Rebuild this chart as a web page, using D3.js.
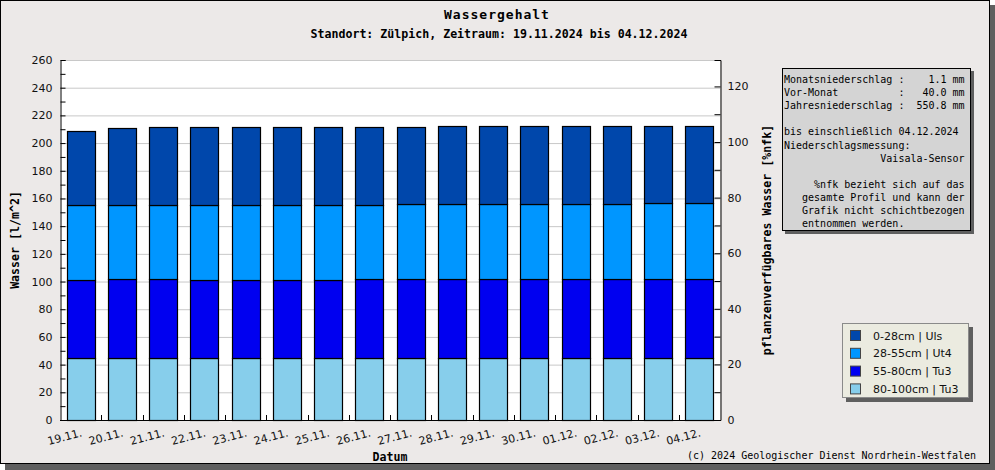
<!DOCTYPE html>
<html><head><meta charset="utf-8">
<script src="https://cdn.jsdelivr.net/npm/d3@7"></script>
<style>
html,body{margin:0;padding:0;background:#fff;}
svg{display:block;}
text{font-family:"DejaVu Sans",sans-serif;}
.mono{font-family:"DejaVu Sans Mono",monospace;white-space:pre;}
</style></head>
<body>
<svg id="c" width="995" height="470"></svg>
<script>
const dates = ["19.11.","20.11.","21.11.","22.11.","23.11.","24.11.","25.11.","26.11.","27.11.","28.11.","29.11.","30.11.","01.12.","02.12.","03.12.","04.12."];
// layer values in l/m^2, bottom to top
const layer80_100 = [44.6,44.6,44.6,44.6,44.6,44.6,44.6,44.6,44.6,45.0,45.0,45.0,45.0,45.0,45.0,45.0];
const layer55_80  = [56.4,57.1,57.1,56.7,56.7,56.7,56.7,57.1,57.1,56.9,56.9,56.9,56.9,56.9,56.9,56.9];
const layer28_55  = [54.3,53.6,53.6,54.0,54.0,54.0,54.0,53.6,54.3,54.1,54.1,54.1,54.1,54.1,54.8,54.8];
const layer0_28   = [53.3,55.4,56.3,56.3,56.3,56.3,56.3,56.3,55.8,56.3,56.3,56.3,56.3,56.3,55.6,55.6];
const seriesNames = ["0-28cm | Uls","28-55cm | Ut4","55-80cm | Tu3","80-100cm | Tu3"];
const seriesColors = ["#0047ab","#0096ff","#0000f0","#87ceeb"];
const leftTicks = [0,20,40,60,80,100,120,140,160,180,200,220,240,260];
const rightTicks = [0,20,40,60,80,100,120];
const leftMax = 260, rightMax = 129.5;
const title = "Wassergehalt";
const subtitle = "Standort: Zülpich, Zeitraum: 19.11.2024 bis 04.12.2024";
const infoLines = [
"Monatsniederschlag :    1.1 mm",
"Vor-Monat          :   40.0 mm",
"Jahresniederschlag :  550.8 mm",
"",
"bis einschließlich 04.12.2024",
"Niederschlagsmessung:",
"                Vaisala-Sensor",
"",
"     %nfk bezieht sich auf das",
"   gesamte Profil und kann der",
"   Grafik nicht schichtbezogen",
"   entnommen werden."
];
const footer = "(c) 2024 Geologischer Dienst Nordrhein-Westfalen";

const svg = d3.select("#c");
// frame + shadow
svg.append("rect").attr("x",5).attr("y",5).attr("width",990).attr("height",465).attr("fill","#5f5f5f");
svg.append("rect").attr("x",0.5).attr("y",0.5).attr("width",989).attr("height",463).attr("fill","#ece9e8").attr("stroke","#000");

const L=60,R=720,T=60,B=420;
const x = d3.scaleBand().domain(dates).range([L,R]).paddingInner(0.32).paddingOuter(0.16);
const y = d3.scaleLinear().domain([0,leftMax]).range([B,T]);
const y2 = d3.scaleLinear().domain([0,rightMax]).range([B,T]);

svg.append("rect").attr("x",L).attr("y",T).attr("width",R-L).attr("height",B-T).attr("fill","#fff");
// grid
svg.append("g").selectAll("line").data(leftTicks.filter(d=>d>0)).join("line")
  .attr("x1",L).attr("x2",R).attr("y1",d=>y(d)+0.5).attr("y2",d=>y(d)+0.5)
  .attr("stroke","#c8c8c8").attr("stroke-width",1);

// stacked bars
const rows = dates.map((d,i)=>({date:d, l0:layer0_28[i], l1:layer28_55[i], l2:layer55_80[i], l3:layer80_100[i]}));
const stack = d3.stack().keys(["l3","l2","l1","l0"])(rows);
const colorByKey = {l0:seriesColors[0], l1:seriesColors[1], l2:seriesColors[2], l3:seriesColors[3]};
svg.append("g").selectAll("g").data(stack).join("g").attr("fill",s=>colorByKey[s.key])
  .selectAll("rect").data(s=>s).join("rect")
  .attr("x",d=>Math.round(x(d.data.date))+0.5).attr("width",Math.round(x.bandwidth()))
  .attr("y",d=>Math.round(y(d[1]))+0.5).attr("height",d=>Math.round(y(d[0]))-Math.round(y(d[1])))
  .attr("stroke","#000").attr("stroke-width",1.2);

// left axis
const la = d3.axisLeft(y).tickValues(d3.range(0,leftMax+1,10)).tickSize(-5).tickPadding(8)
  .tickFormat(d=>leftTicks.includes(d)?d:"");
const gl = svg.append("g").attr("transform",`translate(${L+0.5},0)`).call(la);
gl.select(".domain").attr("stroke","#000");
gl.selectAll("text").attr("font-size","11px").attr("fill","#111").attr("x",-8);
gl.selectAll("line").attr("stroke","#000");
// right axis
const ra = d3.axisRight(y2).tickValues(d3.range(0,rightMax,10)).tickSize(-6).tickPadding(8)
  .tickFormat(d=>rightTicks.includes(d)?d:"");
const gr = svg.append("g").attr("transform",`translate(${R+0.5},0)`).call(ra);
gr.select(".domain").attr("stroke","#000");
gr.selectAll("text").attr("font-size","11px").attr("fill","#111").attr("x",7);
gr.selectAll("line").attr("stroke","#000");
// bottom axis
svg.append("line").attr("x1",L).attr("x2",R+1).attr("y1",B+0.5).attr("y2",B+0.5).attr("stroke","#000");
const step = x.step();
svg.append("g").selectAll("line").data(d3.range(1,dates.length)).join("line")
  .attr("x1",i=>Math.round(L+i*step)+0.5).attr("x2",i=>Math.round(L+i*step)+0.5)
  .attr("y1",B).attr("y2",B-5).attr("stroke","#000");
svg.append("g").selectAll("text").data(dates).join("text")
  .attr("transform",d=>`translate(${x(d)+x.bandwidth()/2+2},436) rotate(-15)`)
  .attr("text-anchor","end").attr("font-size","11px").attr("fill","#111").text(d=>d);

// titles
svg.append("text").attr("class","mono").attr("x",497).attr("y",19).attr("text-anchor","middle")
  .attr("font-size","13px").attr("font-weight","bold").attr("letter-spacing","1px").text(title);
svg.append("text").attr("class","mono").attr("x",499).attr("y",38).attr("text-anchor","middle")
  .attr("font-size","11.6px").attr("font-weight","bold").text(subtitle);
svg.append("text").attr("class","mono").attr("x",390).attr("y",461).attr("text-anchor","middle")
  .attr("font-size","11.6px").attr("font-weight","bold").text("Datum");
svg.append("text").attr("class","mono").attr("transform","translate(19,240) rotate(-90)").attr("text-anchor","middle")
  .attr("font-size","11.6px").attr("font-weight","bold").text("Wasser [l/m^2]");
svg.append("text").attr("class","mono").attr("transform","translate(771,240) rotate(-90)").attr("text-anchor","middle")
  .attr("font-size","11.6px").attr("font-weight","bold").text("pflanzenverfügbares Wasser [%nfk]");

// info box
svg.append("rect").attr("x",785).attr("y",71).attr("width",189).attr("height",163).attr("fill","#5f5f5f");
svg.append("rect").attr("x",782.5).attr("y",68.5).attr("width",188).attr("height",162).attr("fill","#d4d4d4").attr("stroke","#000");
svg.append("g").selectAll("text").data(infoLines).join("text").attr("class","mono")
  .attr("x",784).attr("y",(d,i)=>83+i*13.1).attr("font-size","10px").attr("fill","#000").text(d=>d);

// legend
svg.append("rect").attr("x",846).attr("y",327).attr("width",127).attr("height",75).attr("fill","#5f5f5f");
svg.append("rect").attr("x",842.5).attr("y",323.5).attr("width",126).attr("height",74).attr("fill","#ebebe0").attr("stroke","#8a8a8a");
const lg = svg.append("g").selectAll("g").data(seriesNames).join("g")
  .attr("transform",(d,i)=>`translate(850,${330+i*17.8})`);
lg.append("rect").attr("x",0.5).attr("y",0.5).attr("width",10).attr("height",10)
  .attr("fill",(d,i)=>seriesColors[i]).attr("stroke","#444");
lg.append("text").attr("x",23).attr("y",9.5).attr("font-size","11px").attr("fill","#111").text(d=>d);

// footer
svg.append("text").attr("class","mono").attr("x",687).attr("y",459).attr("font-size","10px").attr("fill","#000").text(footer);
</script>
</body></html>
